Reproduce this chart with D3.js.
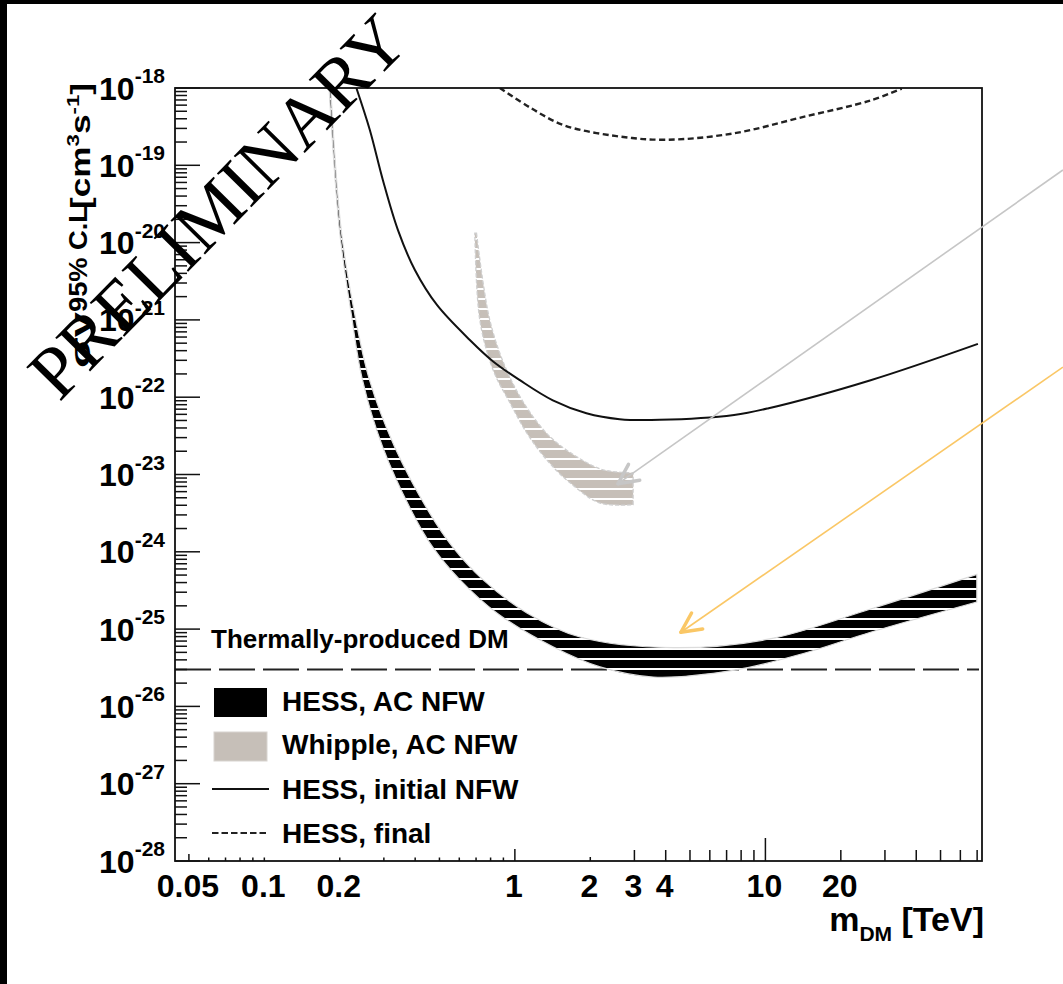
<!DOCTYPE html>
<html>
<head>
<meta charset="utf-8">
<script src="https://cdn.jsdelivr.net/npm/d3@7"></script>
<style>
  body { margin: 0; background: #fff; }
  svg { display: block; }
</style>
</head>
<body>
<div id="chart"></div>
<script>
// values: [m_DM in TeV, <sigma v> in cm^3 s^-1]
const hessBandUpper = [[0.184, 1e-18], [0.2027, 1.45e-20], [0.229, 1.23e-21], [0.263, 1.66e-22],
    [0.331, 2.29e-23], [0.457, 3.16e-24], [0.565, 1.15e-24], [0.745, 4.37e-25], [1.117, 1.62e-25],
    [1.82, 7.9e-26], [4.29, 5.75e-26], [10.28, 7.4e-26], [26.3, 1.82e-25], [69.8, 5.1e-25]];
const hessBandLower = [[0.1813, 1e-18], [0.1995, 1.45e-20], [0.222, 1.23e-21], [0.2466, 1.66e-22],
    [0.2965, 2.29e-23], [0.391, 3.16e-24], [0.47, 1.15e-24], [0.6026, 4.37e-25], [0.847, 1.62e-25],
    [1.419, 5.9e-26], [2.188, 3.24e-26], [3.565, 2.4e-26], [7.52, 2.95e-26], [14.06, 4.8e-26],
    [26.3, 9.1e-26], [69.8, 2.24e-25]];
const whippleUpper = [[0.703, 1.33e-20], [0.794, 1e-21], [0.927, 2.24e-22], [1.114, 7.4e-23],
    [1.38, 3.09e-23], [1.765, 1.7e-23], [2.249, 1.15e-23], [2.965, 1.05e-23]];
const whippleLower = [[0.692, 1.33e-20], [0.7244, 1e-21], [0.819, 2.24e-22], [0.955, 8.5e-23],
    [1.114, 3.47e-23], [1.339, 1.55e-23], [1.66, 7.8e-24], [2.188, 4.27e-24], [2.965, 4.07e-24]];
const hessInitial = [[0.233, 1e-18], [0.2637, 2.86e-19], [0.2972, 6.45e-20], [0.3412, 1.46e-20],
    [0.399, 4.42e-21], [0.4887, 1.56e-21], [0.661, 5.5e-22], [0.819, 2.9e-22], [1.047, 1.66e-22],
    [1.418, 9.1e-23], [1.93, 6.2e-23], [2.62, 5.2e-23], [3.79, 5.1e-23], [7.5, 5.9e-23],
    [10.3, 7.2e-23], [26.3, 1.66e-22], [70.5, 4.9e-22]];
const hessFinal = [[0.871, 1e-18], [1.148, 5.6e-19], [1.57, 3.3e-19], [2.51, 2.4e-19],
    [4.02, 2.14e-19], [7.52, 2.6e-19], [14.06, 4.2e-19], [26.3, 6.9e-19], [35.0, 9.8e-19]];
const thermalValue = 3e-26;

const xLabelValues = [0.05, 0.1, 0.2, 1, 2, 3, 4, 10, 20];
const yExponents = [-18, -19, -20, -21, -22, -23, -24, -25, -26, -27, -28];
const legendItems = ["HESS, AC NFW", "Whipple, AC NFW", "HESS, initial NFW", "HESS, final"];

// annotation arrows: tail (outside right) -> tip
const greyArrow = [[154, 8.7e-20], [2.58, 7.6e-24]];
const yellowArrow = [[154, 2.45e-22], [4.6, 9.1e-26]];

const width = 1063, height = 984;
const plot = {left: 175, top: 88, right: 982, bottom: 861};

const svg = d3.select("#chart").append("svg")
    .attr("width", width)
    .attr("height", height)
    .style("font-family", "'Liberation Sans', Arial, Helvetica, sans-serif");

svg.append("rect").attr("width", width).attr("height", height).attr("fill", "#fff");

const x = d3.scaleLog().domain([0.044, 73.2]).range([plot.left, plot.right]);
const y = d3.scaleLog().domain([1e-28, 1e-18]).range([plot.bottom, plot.top]);

const defs = svg.append("defs");
defs.append("clipPath").attr("id", "clip").append("rect")
    .attr("x", plot.left).attr("y", plot.top)
    .attr("width", plot.right - plot.left).attr("height", plot.bottom - plot.top);

function hatch(id, color) {
    const p = defs.append("pattern").attr("id", id)
        .attr("patternUnits", "userSpaceOnUse").attr("width", 10).attr("height", 10);
    p.append("rect").attr("width", 10).attr("height", 10).attr("fill", color);
    p.append("rect").attr("y", 8).attr("width", 10).attr("height", 2).attr("fill", "#fff");
}
hatch("hatchBlack", "#000");
hatch("hatchGrey", "#c6bfb8");

const edge = d3.line()
    .x(d => x(d[0]))
    .y(d => y(d[1]))
    .curve(d3.curveCatmullRom.alpha(0.5));

function bandPath(upper, lower) {
    return edge(upper) + edge(lower.slice().reverse()).replace(/^M/, "L") + "Z";
}

const g = svg.append("g").attr("clip-path", "url(#clip)");

// thermal relic line
g.append("line")
    .attr("x1", x.range()[0]).attr("x2", x.range()[1] - 3)
    .attr("y1", y(thermalValue)).attr("y2", y(thermalValue))
    .attr("stroke", "#222").attr("stroke-width", 2)
    .attr("stroke-dasharray", "36,8");

// bands
g.append("path")
    .attr("d", bandPath(hessBandUpper, hessBandLower))
    .attr("fill", "url(#hatchBlack)")
    .attr("stroke", "#dcdcdc").attr("stroke-width", 1.2);

g.append("path")
    .attr("d", bandPath(whippleUpper, whippleLower))
    .attr("fill", "url(#hatchGrey)")
    .attr("stroke", "#cfcfcf").attr("stroke-width", 1.3)
    .attr("stroke-dasharray", "4,2");

// limit curves
g.append("path")
    .attr("d", edge(hessInitial))
    .attr("fill", "none").attr("stroke", "#111").attr("stroke-width", 2);

g.append("path")
    .attr("d", edge(hessFinal))
    .attr("fill", "none").attr("stroke", "#222").attr("stroke-width", 2.4)
    .attr("stroke-dasharray", "6,3.5");

svg.append("text")
    .attr("x", 211).attr("y", 648)
    .attr("font-size", 26).attr("font-weight", "bold")
    .text("Thermally-produced DM");

// legend
const legend = svg.append("g");
legend.append("rect").attr("x", 214).attr("y", 688).attr("width", 53).attr("height", 29).attr("fill", "#000");
legend.append("rect").attr("x", 214).attr("y", 732).attr("width", 53).attr("height", 29)
    .attr("fill", "#c6bfb8").attr("stroke", "#d8d4d0");
legend.append("line").attr("x1", 212).attr("x2", 269).attr("y1", 789).attr("y2", 789)
    .attr("stroke", "#111").attr("stroke-width", 2);
legend.append("line").attr("x1", 212).attr("x2", 269).attr("y1", 833).attr("y2", 833)
    .attr("stroke", "#222").attr("stroke-width", 2).attr("stroke-dasharray", "6.5,3");
legend.selectAll("text.leg")
    .data(legendItems)
    .enter().append("text")
    .attr("class", "leg")
    .attr("x", 282)
    .attr("y", (d, i) => [711, 754, 799, 843][i])
    .attr("font-size", 28).attr("font-weight", "bold")
    .text(d => d);

// frame
svg.append("rect")
    .attr("x", plot.left).attr("y", plot.top)
    .attr("width", plot.right - plot.left).attr("height", plot.bottom - plot.top)
    .attr("fill", "none").attr("stroke", "#111").attr("stroke-width", 1.8);

// y ticks
const yMajor = yExponents.map(e => +("1e" + e));
const yMinor = [];
for (let e = -28; e < -18; e++) {
    for (let k = 2; k <= 9; k++) yMinor.push(+(k + "e" + e));
}
svg.selectAll("line.ymin").data(yMinor).enter().append("line")
    .attr("x1", plot.left).attr("x2", plot.left + 12)
    .attr("y1", d => y(d)).attr("y2", d => y(d))
    .attr("stroke", "#111").attr("stroke-width", 1.5);
svg.selectAll("line.ymaj").data(yMajor).enter().append("line")
    .attr("x1", plot.left).attr("x2", plot.left + 25)
    .attr("y1", d => y(d)).attr("y2", d => y(d))
    .attr("stroke", "#111").attr("stroke-width", 1.5);

const yLab = svg.selectAll("text.ylab").data(yExponents).enter().append("text")
    .attr("x", 165)
    .attr("y", d => y(+("1e" + d)) + 11.5)
    .attr("text-anchor", "end")
    .attr("font-weight", "bold");
yLab.append("tspan").attr("font-size", 32).text("10");
yLab.append("tspan").attr("font-size", 21).attr("dy", -16.5).text(d => d);

// x ticks
const xTicks = [];
[-2, -1, 0, 1].forEach(e => {
    for (let k = 1; k <= 9; k++) {
        const v = +(k + "e" + e);
        if (v >= 0.05 && v <= 70) xTicks.push(v);
    }
});
function xTickLen(v) {
    if (v === 10) return 23;
    if (v === 1) return 12;
    if (v === 0.05) return 7;
    if (v === 2) return 4;
    return v < 1 ? 3.5 : 11;
}
svg.selectAll("line.xt").data(xTicks).enter().append("line")
    .attr("x1", d => x(d)).attr("x2", d => x(d))
    .attr("y1", plot.bottom).attr("y2", d => plot.bottom - xTickLen(d))
    .attr("stroke", "#111").attr("stroke-width", 1.5);

svg.selectAll("text.xlab").data(xLabelValues).enter().append("text")
    .attr("x", d => x(d) - 1)
    .attr("y", 897)
    .attr("text-anchor", "middle")
    .attr("font-size", 32).attr("font-weight", "bold")
    .text(d => d);

// x title
const xt = svg.append("text")
    .attr("x", 984).attr("y", 931)
    .attr("text-anchor", "end")
    .attr("font-weight", "bold").attr("font-size", 34);
xt.append("tspan").text("m");
xt.append("tspan").attr("font-size", 21).attr("dy", 10).text("DM");
xt.append("tspan").attr("dy", -10).text(" [TeV]");

// y title, stretched along its length like the original
function rotatedPiece(baseX, startY, len, build) {
    const outer = svg.append("g").attr("transform", `translate(${baseX},${startY}) rotate(-90)`);
    const inner = outer.append("g");
    const t = inner.append("text").attr("font-weight", "bold");
    build(t);
    const w = t.node().getBBox().width;
    inner.attr("transform", `scale(${len / w},1)`);
}
rotatedPiece(90, 368, 56, t => t.attr("font-size", 27).text("σv"));
rotatedPiece(87, 312, 106, t => t.attr("font-size", 25).text("95% C.L"));
rotatedPiece(90, 209, 126, t => {
    t.attr("font-size", 27);
    t.append("tspan").text("[cm");
    t.append("tspan").attr("font-size", 17).attr("dy", -11).text("3");
    t.append("tspan").attr("dy", 11).text("s");
    t.append("tspan").attr("font-size", 17).attr("dy", -11).text("-1");
    t.append("tspan").attr("dy", 11).text("]");
});

// arrows
function arrow(pts, color) {
    const tail = [x(pts[0][0]), y(pts[0][1])];
    const tip = [x(pts[1][0]), y(pts[1][1])];
    svg.append("line")
        .attr("x1", tail[0]).attr("y1", tail[1]).attr("x2", tip[0]).attr("y2", tip[1])
        .attr("stroke", color).attr("stroke-width", 1.6);
    const ang = Math.atan2(tail[1] - tip[1], tail[0] - tip[0]);
    [-0.46, 0.46].forEach(da => {
        svg.append("line")
            .attr("x1", tip[0]).attr("y1", tip[1])
            .attr("x2", tip[0] + 22 * Math.cos(ang + da))
            .attr("y2", tip[1] + 22 * Math.sin(ang + da))
            .attr("stroke", color).attr("stroke-width", 3.5)
            .attr("stroke-linecap", "round");
    });
}
arrow(greyArrow, "#c6c6c6");
arrow(yellowArrow, "#fac766");

// watermark
svg.append("text")
    .attr("transform", "translate(218,207) rotate(-45.5)")
    .attr("y", 24)
    .attr("text-anchor", "middle")
    .attr("font-family", "'Liberation Serif', 'Times New Roman', serif")
    .attr("font-size", 74)
    .attr("fill", "#000")
    .text("PRELIMINARY");

// black edges of the scanned slide
svg.append("rect").attr("x", 0).attr("y", 0).attr("width", width).attr("height", 4).attr("fill", "#000");
svg.append("rect").attr("x", 0).attr("y", 0).attr("width", 7).attr("height", height).attr("fill", "#000");
</script>
</body>
</html>
